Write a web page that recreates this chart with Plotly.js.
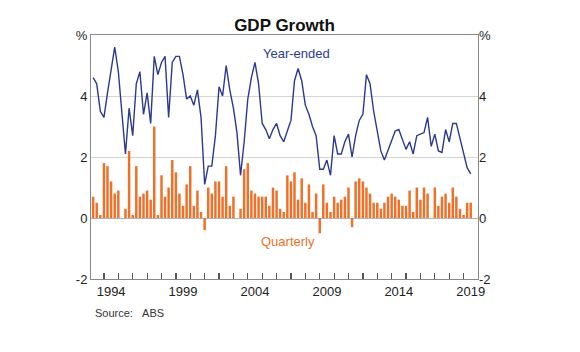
<!DOCTYPE html>
<html><head><meta charset="utf-8">
<script src="https://cdn.plot.ly/plotly-3.0.1.min.js"></script>
<style>html,body{margin:0;padding:0;background:#fff}#chart{width:580px;height:352px}</style>
</head><body><div id="chart"></div>
<script>
// Quarterly data, starting 1993 Q1, ending 2019 Q2
const startYear = 1993;
const quarterly = [
 0.7, 0.5, 0.1, 1.8, 1.7, 1.2, 0.8, 0.9, 0.0, 0.3,
 2.2, 0.1, 1.7, 0.7, 0.8, 0.9, 0.6, 3.0, 0.1, 1.4,
 0.7, 1.0, 1.9, 1.5, 0.8, 0.4, 1.1, 1.7, 0.4, 0.9,
 0.2, -0.4, 1.0, 0.8, 1.2, 1.2, 0.7, 1.7, 0.4, 0.7,
 0.0, 0.3, 1.6, 1.8, 0.9, 0.8, 0.7, 0.7, 0.7, 0.4,
 1.0, 0.9, 0.3, 0.2, 1.4, 1.2, 1.5, 0.6, 1.3, 0.5,
 1.1, 0.2, 0.8, -0.5, 1.1, 0.5, 0.2, 0.7, 0.5, 0.6,
 0.7, 1.0, -0.3, 1.2, 1.3, 1.2, 1.0, 0.8, 0.5, 0.5,
 0.3, 0.5, 0.7, 0.8, 0.7, 0.6, 0.4, 0.4, 0.9, 0.2,
 1.0, 0.6, 1.0, 0.8, 0.0, 1.0, 0.4, 0.7, 0.8, 0.5,
 1.0, 0.7, 0.3, 0.1, 0.5, 0.5
];
const yearEnded = [
 4.6, 4.4, 3.5, 3.3, 4.1, 4.9, 5.6, 4.8, 3.3, 2.1,
 3.6, 2.7, 4.4, 4.8, 3.4, 4.1, 3.1, 5.3, 4.7, 5.1,
 5.3, 3.3, 5.1, 5.3, 5.3, 4.7, 3.9, 4.0, 3.7, 4.2,
 3.3, 1.1, 1.7, 1.7, 2.7, 4.3, 4.0, 5.0, 4.2, 3.6,
 2.8, 1.4, 2.5, 3.9, 4.6, 5.1, 4.4, 3.1, 2.9, 2.6,
 2.9, 3.1, 2.7, 2.5, 2.85, 3.2, 4.5, 4.9, 4.5, 3.7,
 3.4, 3.0, 2.7, 1.6, 1.6, 1.9, 1.4, 2.7, 2.1, 2.1,
 2.5, 2.75, 2.0, 2.7, 3.2, 3.4, 4.7, 4.4, 3.5, 2.85,
 2.2, 1.9, 2.2, 2.5, 2.85, 2.9, 2.6, 2.25, 2.5, 2.1,
 2.7, 2.75, 2.8, 3.3, 2.35, 2.75, 2.2, 2.15, 2.9, 2.5,
 3.1, 3.1, 2.6, 2.1, 1.65, 1.45
];
const yearLabels = ['1994', '1999', '2004', '2009', '2014', '2019'];
const yTickVals = [-2, 0, 2, 4, 6];
const yTickText = ['-2', '0', '2', '4', '%'];

const quarterEnds = ['-03-31', '-06-30', '-09-30', '-12-31'];
const dates = quarterly.map((_, i) => (startYear + Math.floor(i / 4)) + quarterEnds[i % 4]);
const yearLabelPos = yearLabels.map(y => y + '-07-01');
// tick marks at every year boundary, 1994 to 2019
const yearStarts = [];
for (let y = 1994; y <= 2019; y++) yearStarts.push(y + '-01-01');

const FONT = 'Arial, "Liberation Sans", sans-serif';
const blue = '#2b3a8e';
const orange = '#f07028';
const xRange = ['1993-02-05', '2020-01-01'];
const yRange = [-2, 6];

const traces = [
  {type: 'bar', x: dates, y: quarterly, marker: {color: orange}, hoverinfo: 'skip', showlegend: false},
  {type: 'scatter', mode: 'lines', x: dates, y: yearEnded, line: {color: blue, width: 1.4}, hoverinfo: 'skip', showlegend: false},
  // invisible helpers so the secondary axes are drawn
  {type: 'scatter', mode: 'lines', x: dates, y: yearEnded, xaxis: 'x2', yaxis: 'y', line: {width: 0, color: 'rgba(0,0,0,0)'}, hoverinfo: 'skip', showlegend: false},
  {type: 'scatter', mode: 'lines', x: dates, y: yearEnded, xaxis: 'x', yaxis: 'y2', line: {width: 0, color: 'rgba(0,0,0,0)'}, hoverinfo: 'skip', showlegend: false}
];

const layout = {
  width: 580, height: 352,
  margin: {l: 91, r: 102, t: 35, b: 73},
  paper_bgcolor: '#fff', plot_bgcolor: '#fff',
  font: {family: FONT, size: 13, color: '#222'},
  bargap: 0.3,
  title: {text: '<b>GDP Growth</b>', font: {family: FONT, size: 17, color: '#111'},
          x: 0.5, xref: 'paper', xanchor: 'center', y: 1 - 25/352, yref: 'container', yanchor: 'middle'},
  xaxis: {type: 'date', range: xRange,
          tickmode: 'array', tickvals: yearStarts, ticktext: yearStarts.map(() => ' '),
          ticks: 'inside', ticklen: 6, tickcolor: '#555', tickwidth: 1.2,
          showgrid: false, zeroline: false,
          showline: true, linecolor: '#888', linewidth: 1, mirror: true, fixedrange: true},
  xaxis2: {type: 'date', overlaying: 'x', anchor: 'y', side: 'bottom', range: xRange,
           tickmode: 'array', tickvals: yearLabelPos, ticktext: yearLabels,
           ticks: '', ticklabelstandoff: 3, showline: false, showgrid: false, zeroline: false,
           tickfont: {family: FONT, size: 13, color: '#222'}, fixedrange: true},
  yaxis: {range: yRange, tickmode: 'array', tickvals: yTickVals, ticktext: yTickText,
          ticks: '', showgrid: true, gridcolor: '#d4d4d4', gridwidth: 1,
          zeroline: true, zerolinecolor: '#b0b0b0', zerolinewidth: 1,
          showline: true, linecolor: '#888', linewidth: 1, mirror: true,
          tickfont: {family: FONT, size: 13, color: '#222'}, fixedrange: true},
  yaxis2: {range: yRange, overlaying: 'y', side: 'right', anchor: 'x',
           tickmode: 'array', tickvals: yTickVals, ticktext: yTickText,
           ticks: '', showgrid: false, zeroline: false, showline: false,
           tickfont: {family: FONT, size: 13, color: '#222'}, fixedrange: true},
  annotations: [
    {text: 'Year-ended', xref: 'paper', yref: 'paper', x: 0.53, y: 0.926, showarrow: false,
     font: {family: FONT, size: 13, color: blue}, xanchor: 'center', yanchor: 'middle'},
    {text: 'Quarterly', xref: 'paper', yref: 'paper', x: 0.509, y: 0.152, showarrow: false,
     font: {family: FONT, size: 13, color: orange}, xanchor: 'center', yanchor: 'middle'},
    {text: 'Source:\u00a0\u00a0\u00a0ABS', xref: 'paper', yref: 'paper', x: 0.005, y: -0.139, showarrow: false,
     font: {family: FONT, size: 11, color: '#333'}, xanchor: 'left', yanchor: 'middle'}
  ]
};

Plotly.newPlot('chart', traces, layout, {staticPlot: true, displayModeBar: false});
</script>
</body></html>
